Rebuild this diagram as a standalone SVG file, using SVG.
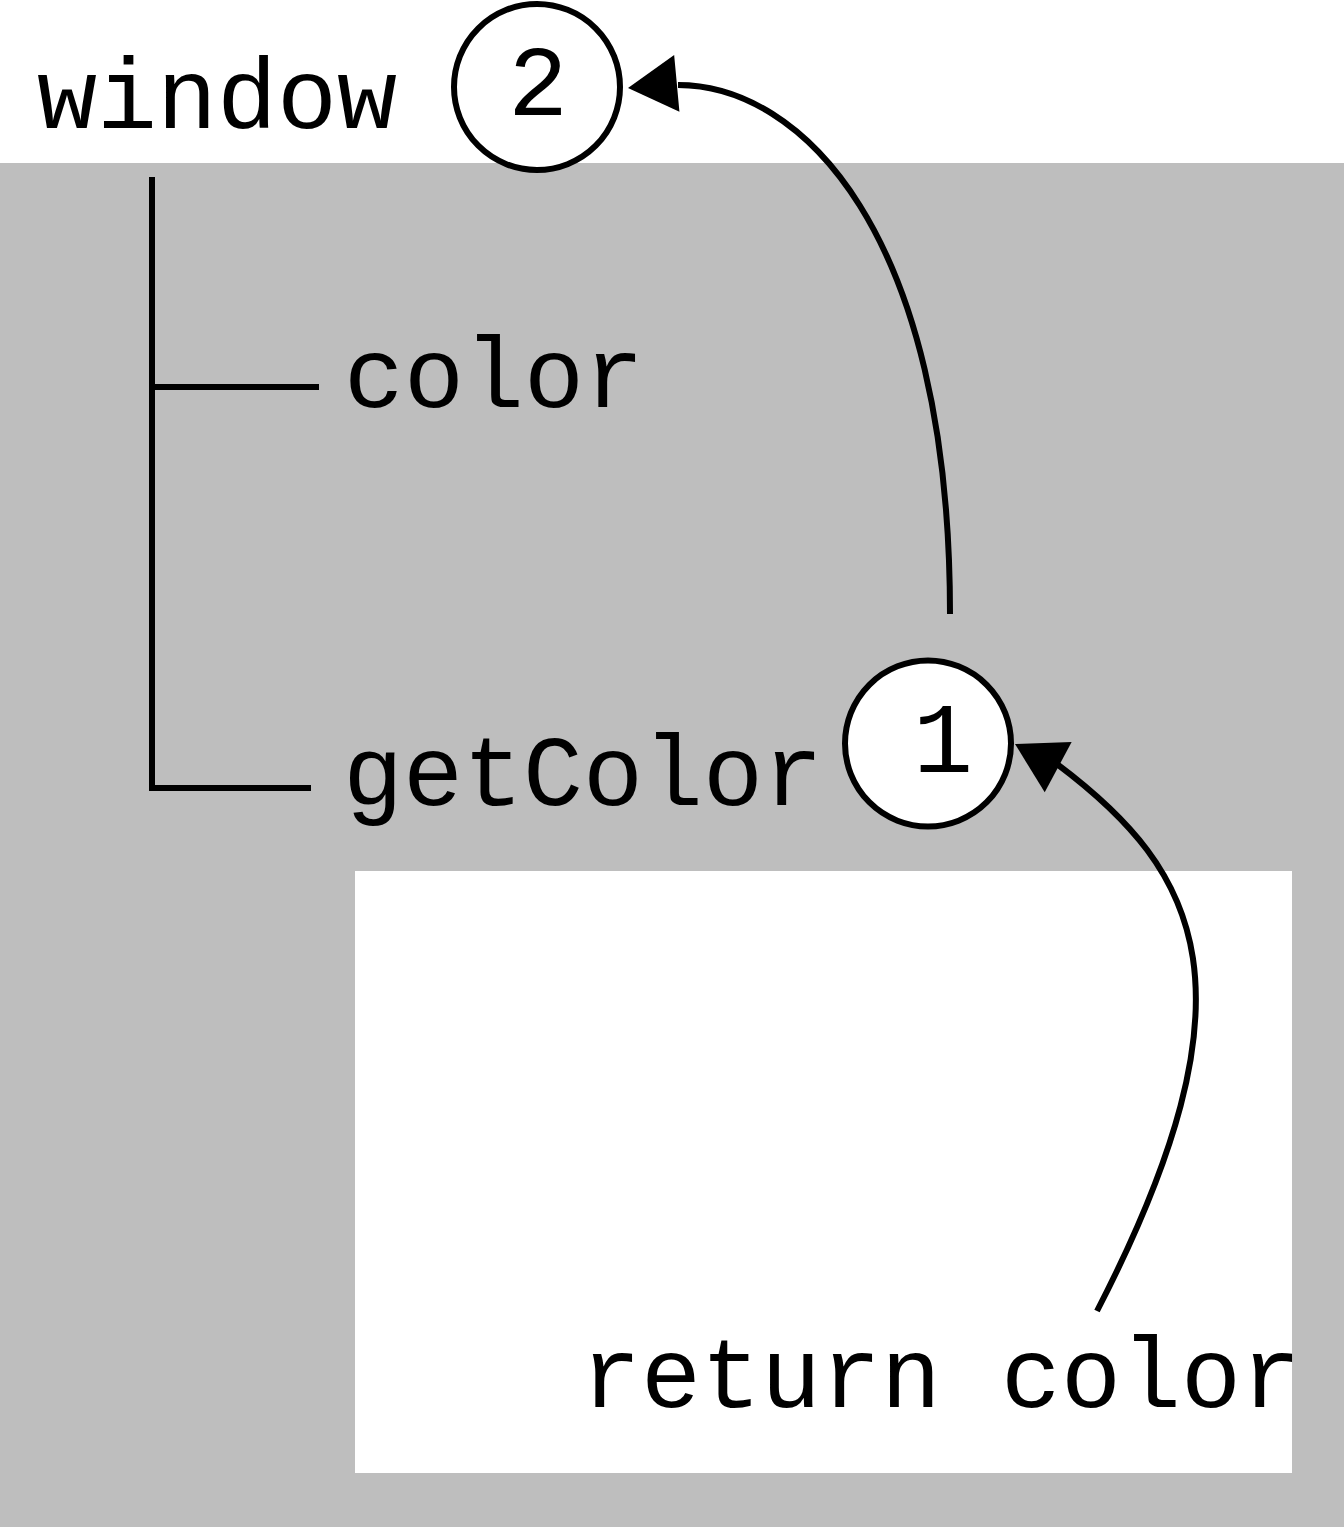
<svg xmlns="http://www.w3.org/2000/svg" xmlns:xlink="http://www.w3.org/1999/xlink" width="1344" height="1527" viewBox="0 0 1344 1527">
<style>
.lbl{font-family:"Liberation Mono","Courier New",monospace;font-size:100px;fill:#000}
.ln{fill:none;stroke:#000;stroke-width:6}
.node{fill:#fff;stroke:#000;stroke-width:6}
</style>
<defs>
<path id="ah" d="M0,0 L-49,-28.5 L-49,28.5 Z" fill="#000"/>
</defs>
<g id="background">
<rect x="0" y="0" width="1344" height="1527" fill="#fff"/>
<rect x="0" y="163" width="1344" height="1364" fill="#bebebe"/>
<rect x="355" y="871" width="937" height="602" fill="#fff"/>
</g>
<g id="window">
<text class="lbl" x="37" y="128">window</text>
</g>
<g id="color">
<text class="lbl" x="344" y="407">color</text>
</g>
<g id="getColor">
<text class="lbl" x="343" y="805">getColor</text>
</g>
<g id="return-color">
<text class="lbl" x="581" y="1407">return color</text>
</g>
<g id="node2">
<circle class="node" cx="537" cy="87" r="83"/>
<text class="lbl" x="538" y="115" text-anchor="middle">2</text>
</g>
<g id="node1">
<circle class="node" cx="928" cy="743.5" r="83"/>
<text class="lbl" x="943" y="772" text-anchor="middle">1</text>
</g>
<g id="connectors">
<path class="ln" d="M152,177 V791 M152,387 H319 M152,788 H311"/>
<path class="ln" d="M950,614 C950,230 800,85 678,85"/>
<use xlink:href="#ah" transform="translate(628,88) rotate(174.7)"/>
<path class="ln" d="M1097,1311 C1262,991 1201,872 1057,764"/>
<use xlink:href="#ah" transform="translate(1015,744) rotate(208.2)"/>
</g>
</svg>
